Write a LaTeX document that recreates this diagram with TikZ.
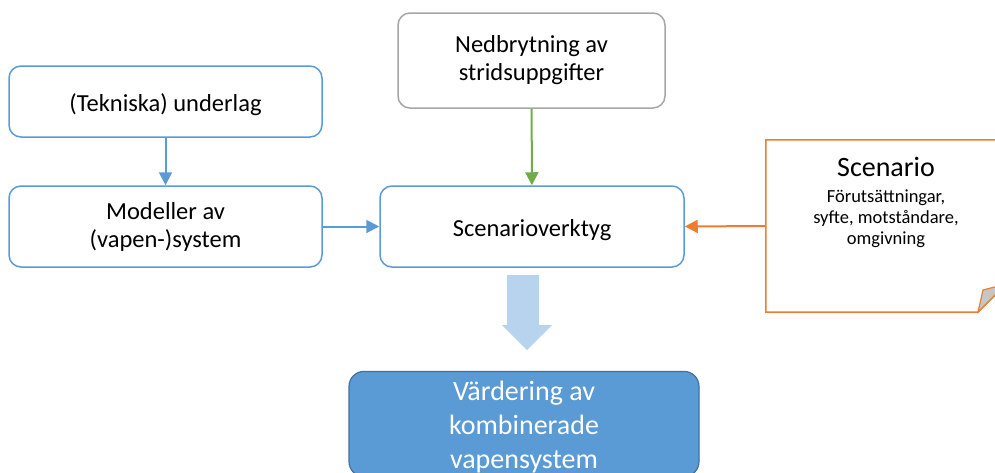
\documentclass[tikz,border=0pt]{standalone}
\usepackage{fontspec}
\setmainfont{Carlito}
\usetikzlibrary{arrows.meta}

\definecolor{boxblue}{HTML}{5B9BD5}
\definecolor{darkblue}{HTML}{41719C}
\definecolor{lightblue}{HTML}{B7D3EE}
\definecolor{boxgray}{HTML}{A6A6A6}
\definecolor{pilgreen}{HTML}{70AD47}
\definecolor{pilorange}{HTML}{ED7D31}

\tikzset{
  box/.style={draw=boxblue, line width=1.5pt, rounded corners=12pt, fill=white,
    align=center, font=\fontsize{24.5}{28}\selectfont, execute at begin node=\rule{0pt}{25pt}},
  pil/.style={line width=2pt, -{Triangle[length=13pt, width=13pt]}},
}

\begin{document}
\begin{tikzpicture}[x=1pt, y=-1pt]
    \useasboundingbox (0,0) rectangle (995,472);

    % left column
    \node[box, minimum width=313pt, minimum height=71pt] (underlag) at (165.5,101.5) {(Tekniska) underlag};
    \node[box, minimum width=313pt, minimum height=81pt] (modeller) at (165.5,226.5) {Modeller av\\(vapen-)system};

    % middle column
    \node[box, draw=boxgray, minimum width=267pt, minimum height=95pt] (nedbrytning) at (531.5,60.5) {Nedbrytning av\\stridsuppgifter};
    \node[box, minimum width=304pt, minimum height=81pt] (verktyg) at (532,226.5) {Scenarioverktyg};

    % scenario sheet with folded corner
    \node[minimum width=240pt, minimum height=172pt, inner sep=0pt] (scenario) at (886,226) {};
    \draw[pilorange, line width=1.5pt, fill=white] (978,312) -- (scenario.south west) -- (scenario.north west)
        -- (scenario.north east) -- (1006,284) -- cycle;
    \filldraw[draw=pilorange, fill=gray!45, line width=1.2pt] (978,312) -- (983,290) -- (1006,284) -- cycle;
    \node[align=center, anchor=north, inner sep=0pt, font=\fontsize{18.5}{21}\selectfont] (scenariotext) at (886,157)
        {{\fontsize{28}{32}\selectfont Scenario}\\[5pt]Förutsättningar,\\syfte, motståndare,\\omgivning};

    % result
    \node[draw=darkblue, fill=boxblue, line width=1.2pt, rounded corners=15pt, text=white, align=center,
        minimum width=350pt, minimum height=102pt, font=\fontsize{28}{34}\selectfont] (vardering) at (524,424)
        {\rule{0pt}{26pt}Värdering av\\kombinerade\\vapensystem};

    % connectors
    \draw[pil, boxblue] (underlag) -- (modeller);
    \draw[pil, boxblue] (modeller) -- (verktyg);
    \draw[pil, pilgreen] (nedbrytning) -- (verktyg);
    \draw[pil, pilorange] (scenario.west) -- (verktyg.east);

    % block arrow
    \fill[lightblue] (507,275) -- (539,275) -- (539,325) -- (552,325) -- (527,350) -- (502,325) -- (507,325) -- cycle;
\end{tikzpicture}
\end{document}
